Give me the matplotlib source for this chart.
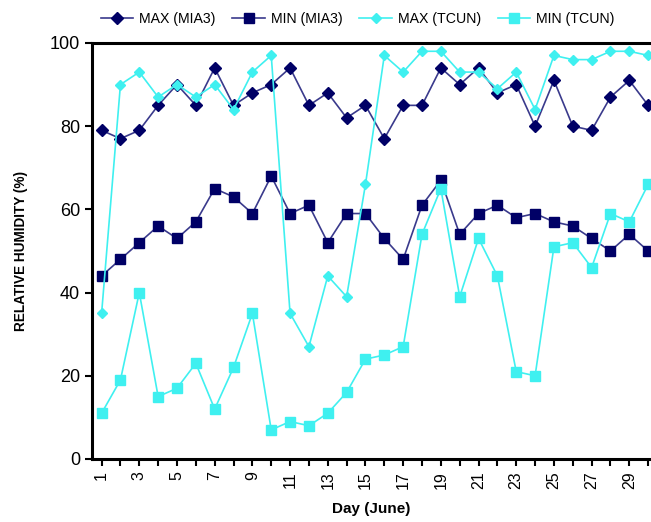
import matplotlib.pyplot as plt

plt.rcParams['font.family'] = ['Liberation Sans', 'DejaVu Sans']

days = list(range(1, 31))

max_mia3 = [79, 77, 79, 85, 90, 85, 94, 85, 88, 90, 94, 85, 88, 82, 85,
            77, 85, 85, 94, 90, 94, 88, 90, 80, 91, 80, 79, 87, 91, 85]
min_mia3 = [44, 48, 52, 56, 53, 57, 65, 63, 59, 68, 59, 61, 52, 59, 59,
            53, 48, 61, 67, 54, 59, 61, 58, 59, 57, 56, 53, 50, 54, 50]
max_tcun = [35, 90, 93, 87, 90, 87, 90, 84, 93, 97, 35, 27, 44, 39, 66,
            97, 93, 98, 98, 93, 93, 89, 93, 84, 97, 96, 96, 98, 98, 97]
min_tcun = [11, 19, 40, 15, 17, 23, 12, 22, 35, 7, 9, 8, 11, 16, 24,
            25, 27, 54, 65, 39, 53, 44, 21, 20, 51, 52, 46, 59, 57, 66]

navy_line = '#3a3a8c'
navy = '#000066'
cyan = '#3ff0f0'

fig = plt.figure(figsize=(6.51, 5.22), dpi=100)
ax = fig.add_axes([0.1413, 0.1207, 0.8587, 0.797])

ax.plot(days, max_mia3, color=navy_line, lw=1.2, marker='D', ms=6,
        mfc=navy, mec=navy, label='MAX (MIA3)')
ax.plot(days, min_mia3, color=navy_line, lw=1.2, marker='s', ms=6.5,
        mfc=navy, mec=navy, label='MIN (MIA3)')
ax.plot(days, max_tcun, color=cyan, lw=1.2, marker='D', ms=5,
        mfc=cyan, mec=cyan, label='MAX (TCUN)')
ax.plot(days, min_tcun, color=cyan, lw=1.2, marker='s', ms=6.5,
        mfc=cyan, mec=cyan, label='MIN (TCUN)')

ax.set_xlim(0.49, 30.15)
ax.set_ylim(0, 100)
ax.set_yticks([0, 20, 40, 60, 80, 100])
ax.set_xticks(days)
ax.set_xticklabels([str(d) if d % 2 == 1 else '' for d in days],
                   rotation=90, fontsize=11.5)
ax.tick_params(axis='y', labelsize=13, direction='out', length=5, width=1.5)
ax.tick_params(axis='x', direction='out', length=5, width=1.5, pad=4)

for s in ['left', 'bottom', 'top']:
    ax.spines[s].set_linewidth(2.2)
ax.spines['right'].set_visible(False)

ax.set_ylabel('RELATIVE HUMIDITY (%)', fontsize=9.8, fontweight='bold', labelpad=16)
ax.set_xlabel('Day (June)', fontsize=11, fontweight='bold', labelpad=9)

ax.legend(loc='lower center', bbox_to_anchor=(0.475, 1.02), ncol=4,
          frameon=False, fontsize=10.2, handlelength=2.3, columnspacing=1.2,
          handletextpad=0.4, borderaxespad=0.2)

fig.savefig('out.png', dpi=100)
